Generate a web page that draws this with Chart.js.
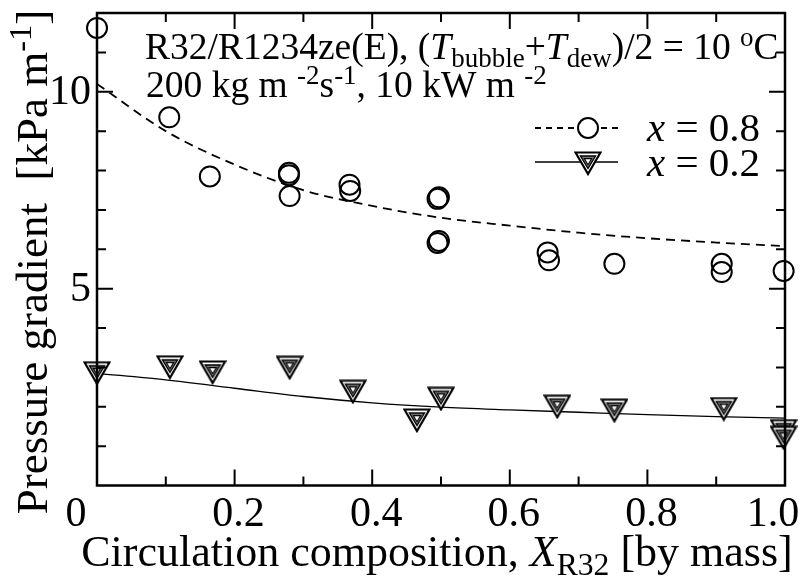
<!DOCTYPE html>
<html>
<head>
<meta charset="utf-8">
<script src="https://cdn.jsdelivr.net/npm/chart.js@4.4.1/dist/chart.umd.min.js"></script>
<style>
html, body { margin: 0; padding: 0; background: #fff; }
#grafico { display: block; }
</style>
</head>
<body>
<canvas id="grafico" width="804" height="578"></canvas>
<script>
// datos
const circX = [0.0, 0.105, 0.164, 0.279, 0.279, 0.28, 0.367, 0.368, 0.495, 0.497, 0.495, 0.497, 0.655, 0.657, 0.752, 0.908, 0.908, 0.998];
const circY = [11.62, 9.35, 7.85, 7.94, 7.88, 7.35, 7.64, 7.48, 7.28, 7.32, 6.16, 6.21, 5.92, 5.72, 5.63, 5.63, 5.42, 5.45];
const triX = [0.0, 0.106, 0.168, 0.28, 0.372, 0.465, 0.5, 0.669, 0.752, 0.911, 0.998, 0.998];
const triY = [2.85, 3.00, 2.87, 2.99, 2.38, 1.65, 2.20, 2.00, 1.90, 1.94, 1.38, 1.21];
const ajusteX = [0, 0.1, 0.2, 0.3, 0.4, 0.5, 0.6, 0.7, 0.8, 0.9, 1.0];
const ajusteAlto = [10.2, 9.0, 8.15, 7.5, 7.1, 6.8, 6.6, 6.42, 6.28, 6.17, 6.08];
const ajusteBajo = [2.85, 2.68, 2.47, 2.26, 2.10, 1.99, 1.92, 1.86, 1.80, 1.75, 1.71];

const xMayores = [0, 0.2, 0.4, 0.6, 0.8, 1.0];
const xEtiquetas = ['0', '0.2', '0.4', '0.6', '0.8', '1.0'];
const xMenores = [0.1, 0.3, 0.5, 0.7, 0.9];
const yMayores = [5, 10];
const yEtiquetas = ['5', '10'];
const yMenores = [1, 2, 3, 4, 6, 7, 8, 9, 11];

const FUENTE = '"Liberation Serif", "Times New Roman", serif';

function marcadorTriangulo() {
    const c = document.createElement('canvas');
    c.width = 28; c.height = 25;
    const g = c.getContext('2d');
    const tri = (x1, x2, yTop, yBot) => {
        g.beginPath();
        g.moveTo(x1, yTop); g.lineTo(x2, yTop); g.lineTo((x1 + x2) / 2, yBot); g.closePath();
    };
    tri(1.5, 26.5, 1.5, 23);
    g.fillStyle = '#fff'; g.fill();
    g.lineWidth = 2.2; g.strokeStyle = '#000'; g.stroke();
    tri(6.5, 21.5, 5, 17.5);
    g.fillStyle = '#7a7a7a'; g.fill();
    g.lineWidth = 1.4; g.stroke();
    tri(10.3, 17.7, 7.6, 13.8);
    g.fillStyle = '#fff'; g.fill();
    g.lineWidth = 1.1; g.stroke();
    return c;
}
const triangulo = marcadorTriangulo();

function fuente(p, size) {
    const chico = p[1] === 'sub' || p[1] === 'sup';
    const s = chico ? size * 0.72 : size;
    const it = (p[1] === 'i') ? 'italic ' : '';
    return `${it}${s}px ${FUENTE}`;
}

function textoRico(ctx, partes, x, y, align, size) {
    const anchos = partes.map(p => { ctx.font = fuente(p, size); return ctx.measureText(p[0]).width; });
    const total = anchos.reduce((a, b) => a + b, 0);
    let cx = align === 'center' ? x - total / 2 : align === 'right' ? x - total : x;
    ctx.textAlign = 'left';
    ctx.textBaseline = 'alphabetic';
    partes.forEach((p, i) => {
        ctx.font = fuente(p, size);
        const dy = p[1] === 'sub' ? size * 0.2 : p[1] === 'sup' ? -size * 0.36 : 0;
        ctx.fillText(p[0], cx, y + dy);
        cx += anchos[i];
    });
}

const marco = {
    id: 'marco',
    afterDraw(chart) {
        const ctx = chart.ctx;
        const a = chart.chartArea;
        const sx = chart.scales.x, sy = chart.scales.y;
        ctx.save();
        ctx.strokeStyle = '#000';
        ctx.fillStyle = '#000';
        ctx.lineWidth = 2.5;
        ctx.strokeRect(a.left, a.top, a.right - a.left, a.bottom - a.top);

        // marcas hacia adentro en los cuatro lados
        ctx.lineWidth = 2;
        const marcaX = (v, largo) => {
            const px = sx.getPixelForValue(v);
            ctx.beginPath();
            ctx.moveTo(px, a.bottom); ctx.lineTo(px, a.bottom - largo);
            ctx.moveTo(px, a.top); ctx.lineTo(px, a.top + largo);
            ctx.stroke();
        };
        const marcaY = (v, largo) => {
            const py = sy.getPixelForValue(v);
            ctx.beginPath();
            ctx.moveTo(a.left, py); ctx.lineTo(a.left + largo, py);
            ctx.moveTo(a.right, py); ctx.lineTo(a.right - largo, py);
            ctx.stroke();
        };
        xMayores.forEach(v => marcaX(v, 16));
        xMenores.forEach(v => marcaX(v, 9));
        yMayores.forEach(v => marcaY(v, 16));
        yMenores.forEach(v => marcaY(v, 9));

        // etiquetas de los ejes
        ctx.font = `42px ${FUENTE}`;
        ctx.textBaseline = 'alphabetic';
        xMayores.forEach((v, i) => {
            let px = sx.getPixelForValue(v);
            ctx.textAlign = 'center';
            if (i === 0) px -= 21;
            else if (i === xMayores.length - 1) px -= 12;
            else px += 4;
            ctx.fillText(xEtiquetas[i], px, a.bottom + 40);
        });
        ctx.textAlign = 'right';
        yMayores.forEach((v, i) => {
            ctx.fillText(yEtiquetas[i], a.left - 6, sy.getPixelForValue(v) + 12);
        });

        // titulos
        textoRico(ctx, [['Circulation composition, ', ''], ['X', 'i'], ['R32', 'sub'], [' [by mass]', '']],
            437, 566, 'center', 44);
        ctx.save();
        ctx.translate(47, 262);
        ctx.rotate(-Math.PI / 2);
        textoRico(ctx, [['Pressure gradient  [kPa m', ''], ['-1', 'sup'], [']', '']], 0, 0, 'center', 45);
        ctx.restore();

        // anotacion
        textoRico(ctx, [['R32/R1234ze(E), (', ''], ['T', 'i'], ['bubble', 'sub'], ['+', ''], ['T', 'i'], ['dew', 'sub'],
            [')/2 = 10 ', ''], ['o', 'sup'], ['C', '']], 145, 59, 'left', 37.5);
        textoRico(ctx, [['200 kg m ', ''], ['-2', 'sup'], ['s', ''], ['-1', 'sup'], [', 10 kW m ', ''], ['-2', 'sup']],
            146, 97, 'left', 37.5);

        // leyenda
        ctx.lineWidth = 1.8;
        ctx.setLineDash([6, 5]);
        ctx.beginPath(); ctx.moveTo(535, 128); ctx.lineTo(618, 128); ctx.stroke();
        ctx.setLineDash([]);
        ctx.beginPath(); ctx.arc(588, 128, 10, 0, Math.PI * 2);
        ctx.fillStyle = '#fff'; ctx.fill();
        ctx.lineWidth = 2; ctx.stroke();
        ctx.lineWidth = 1.3;
        ctx.beginPath(); ctx.moveTo(535, 162); ctx.lineTo(618, 162); ctx.stroke();
        ctx.drawImage(triangulo, 588 - 14, 162 - 11);
        ctx.fillStyle = '#000';
        textoRico(ctx, [['x', 'i'], [' = 0.8', '']], 647, 141, 'left', 41);
        textoRico(ctx, [['x', 'i'], [' = 0.2', '']], 647, 176, 'left', 41);
        ctx.restore();
    }
};

new Chart(document.getElementById('grafico'), {
    type: 'scatter',
    data: {
        datasets: [
            {
                label: 'x = 0.8',
                data: circX.map((x, i) => ({ x, y: circY[i] })),
                pointStyle: 'circle',
                pointRadius: 10,
                borderColor: '#000',
                borderWidth: 2,
                backgroundColor: 'rgba(0,0,0,0)',
                clip: false
            },
            {
                label: 'x = 0.2',
                data: triX.map((x, i) => ({ x, y: triY[i] })),
                pointStyle: triangulo,
                pointRadius: 12,
                clip: false
            },
            {
                type: 'line',
                label: 'ajuste 0.8',
                data: ajusteX.map((x, i) => ({ x, y: ajusteAlto[i] })),
                borderColor: '#000',
                borderWidth: 1.8,
                borderDash: [9, 6],
                pointRadius: 0,
                cubicInterpolationMode: 'monotone',
                fill: false
            },
            {
                type: 'line',
                label: 'ajuste 0.2',
                data: ajusteX.map((x, i) => ({ x, y: ajusteBajo[i] })),
                borderColor: '#000',
                borderWidth: 1.3,
                pointRadius: 0,
                cubicInterpolationMode: 'monotone',
                fill: false
            }
        ]
    },
    options: {
        responsive: false,
        animation: false,
        events: [],
        layout: { padding: { left: 97, right: 19, top: 10.5, bottom: 92.5 } },
        scales: {
            x: { type: 'linear', min: 0, max: 1, display: false },
            y: { type: 'linear', min: 0, max: 12, display: false }
        },
        plugins: { legend: { display: false }, tooltip: { enabled: false } }
    },
    plugins: [marco]
});
</script>
</body>
</html>
